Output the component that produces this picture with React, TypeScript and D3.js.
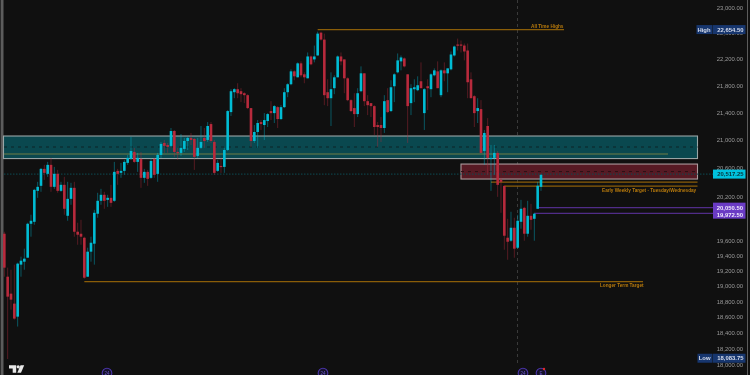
import React from "react";
import * as d3 from "d3";

const opens = [19706,19134,18913,18784,18617,19293,19332,19385,19841,19868,20294,20364,20602,20532,20659,20350,20532,20294,20378,19950,20183,20336,19733,19706,19652,19134,19465,19572,19978,20156,20239,20169,20197,20156,20574,20546,20574,20687,20743,20843,20701,20743,20476,20560,20476,20743,20532,20800,20972,20943,20929,21144,20843,20829,20886,21000,21044,21029,20786,20901,21044,21015,21245,20986,20574,20644,20630,20871,21420,21714,21759,21729,21699,21670,21479,21000,21130,21274,21231,21289,21435,21405,21493,21318,21493,21714,21833,22027,21937,22148,21982,21922,22253,22208,22268,22619,22512,21714,21625,21774,21937,22253,22208,21922,21596,21479,21391,21729,21997,21581,21552,21508,21231,21231,21188,21596,21435,21803,22012,22178,22223,21982,21552,21759,21744,21878,21405,21803,21759,21967,22027,21670,22042,21997,22057,22268,22436,22436,22420,22344,21907,21655,21435,21464,20857,21217,20743,20758,20829,20448,20364,19652,19612,19787,19518,19868,20059,19706,19950,19909,20046,20350];
const closes = [19253,18874,18835,18592,19306,19345,19372,19841,19882,20308,20350,20602,20546,20659,20350,20532,20294,20378,20046,20183,20336,19733,19693,19666,19121,19465,19585,19991,20156,20239,20156,20197,20128,20560,20532,20574,20701,20758,20857,20701,20758,20476,20560,20462,20715,20518,20800,20958,20929,20915,21144,20843,20829,20901,21000,21044,21015,20772,20901,20986,21000,21217,21000,20546,20687,20630,20871,21435,21729,21759,21699,21685,21670,21479,21000,21130,21260,21245,21303,21391,21405,21508,21318,21493,21714,21833,22027,21952,22148,21967,21937,22253,22133,22253,22604,22512,21670,21625,21759,21937,22253,22178,21922,21596,21435,21391,21699,21997,21581,21522,21508,21202,21202,21188,21581,21420,21788,21982,22193,22238,22102,21508,21774,21788,21818,21774,21759,21774,21982,22042,21774,22042,21997,22072,22283,22405,22420,22420,22329,21863,21625,21405,21479,20829,21116,20758,20758,20829,20378,20420,19679,19598,19787,19505,19882,20046,19706,19950,19895,19978,20364,20517.25];
const highs = [19733,19253,19226,19293,19319,19398,19505,19855,19964,20322,20420,20616,20659,20701,20758,20630,20588,20420,20490,20420,20406,20420,19855,19895,19666,19518,19666,20032,20267,20322,20281,20239,20378,20701,20602,20687,20729,20800,21058,20901,20829,20843,20602,20588,20758,20758,20829,20986,21015,20972,21188,21159,20901,21101,21044,21058,21116,21044,21044,21217,21188,21274,21274,21015,20729,20758,20901,21449,21759,21774,21848,21774,21714,21685,21479,21231,21303,21303,21405,21405,21581,21522,21508,21522,21774,21848,22057,22042,22163,22178,22012,22314,22268,22420,22635,22635,22604,21907,22012,21967,22268,22314,22208,21937,21611,21699,21774,22102,21997,21670,21552,21522,21274,21347,21670,21774,21893,21997,22299,22268,22238,21982,21833,21907,21952,22163,21774,21907,21997,22072,22178,22057,22163,22072,22329,22420,22527,22497,22451,22451,22012,21670,21625,21596,21159,21332,20943,20943,20857,20476,20364,19909,20005,19923,19964,20169,20073,20156,20114,19991,20420,20532];
const lows = [19134,18083.75,18707,18579,18491,19134,19226,19385,19666,19828,20197,20281,20448,20490,20281,20322,20267,20281,19964,19882,20101,19666,19558,19558,19108,19134,19332,19293,19923,20101,20046,20073,20073,20142,20378,20476,20518,20659,20729,20687,20560,20336,20406,20364,20462,20476,20420,20758,20829,20829,20915,20772,20729,20786,20843,20871,20943,20588,20758,20886,20901,20986,20972,20518,20560,20546,20546,20857,21362,21625,21625,21567,21552,21464,20915,20972,20901,21159,21015,21202,21303,21260,21188,21303,21479,21640,21818,21893,21937,21937,21848,21922,22118,22163,22268,22497,21522,21508,21217,21685,21937,22118,21699,21581,21420,21202,21347,21714,21508,21376,21347,21087,20915,20986,21116,21405,21420,21567,21997,22042,22087,20972,21376,21567,21729,21774,21159,21449,21640,21952,21774,21640,21878,21714,22042,22253,22344,22314,22193,21625,21625,21202,21260,20829,20659,20518,20294,20518,20211,19991,19491,19358,19598,19385,19505,19774,19612,19666,19760,19612,20046,20294];

const axisTicks = [23000,22600,22200,21800,21400,21000,20600,20200,19600,19400,19200,19000,18800,18600,18400,18200,18000];
const allTimeHigh = 22654.5;
const allTimeLow = 18083.75;
const lastPrice = 20517.25;
const purpleLevels = [20050.5, 19972.5];
const supplyZone = [21060, 20737];
const supplyMid = 20902;
const supplyInner = 20801;
const demandZone = [20659, 20448];
const demandMid = 20553;
const weeklyTargets = [20405, 20350];
const longerTarget = 19059;
const eventCandles = [30.8, 95.6, 155.6, 161];

const W = 750, H = 375;
const BG = "#101010", UP = "#00bcd4", DOWN = "#b82a3c", GOLD = "#8a5d08", VIOLET = "#502c88";
const FONT = "'Liberation Sans', Arial, sans-serif";

const y = d3.scaleLog().domain([18000, 23000]).range([365, 7.5]);
const x = d3.scaleLinear().domain([0, 161]).range([4.33, 541]);
const fmt = d3.format(",.2f");
const RIGHT_BOX = 697.5;

function Tag({ top, h = 9, left = 713, w = 32.5, fill, color, label }: any) {
  return (
    <g>
      <rect x={left} y={top} width={w} height={h} fill={fill} />
      <text x={left + w - 2} y={top + h / 2 + 2.1} textAnchor="end" fontSize={5.9} fontFamily={FONT} fontWeight={700} fill={color}>{label}</text>
    </g>
  );
}

export default function App() {
  const ry = (p: number) => y(p);
  return (
    <svg width={W} height={H} viewBox={`0 0 ${W} ${H}`} style={{ position: "fixed", left: 0, top: 0, display: "block", filter: "blur(0.4px)" }}>
      <rect width={W} height={H} fill={BG} />
      <rect x={0} y={0} width={1} height={H} fill="#2a2a2a" />
      <rect x={1} y={0} width={2.5} height={H} fill="#5c5c5c" />
      <rect x={747} y={0} width={1} height={H} fill="#5c5c5c" />

      {/* vertical session marker */}
      <line x1={517.5} x2={517.5} y1={0} y2={366} stroke="#3a3a3a" strokeDasharray="3 3" />

      {/* teal zone */}
      <rect x={3.5} y={ry(supplyZone[0])} width={RIGHT_BOX - 3.5} height={ry(supplyZone[1]) - ry(supplyZone[0])} fill="#0a484f" stroke="#9aa6a7" strokeWidth={1.1} />
      <line x1={4} x2={RIGHT_BOX} y1={ry(supplyMid)} y2={ry(supplyMid)} stroke="#0c2326" strokeDasharray="3 4" />
      <line x1={4} x2={668} y1={ry(supplyInner)} y2={ry(supplyInner)} stroke="#6f7d45" strokeWidth={1.1} />

      {/* red zone */}
      <rect x={x(137)} y={ry(demandZone[0])} width={RIGHT_BOX - x(137)} height={ry(demandZone[1]) - ry(demandZone[0])} fill="#571a24" stroke="#ad9b9d" strokeWidth={1.1} />
      <line x1={x(137)} x2={RIGHT_BOX} y1={ry(demandMid)} y2={ry(demandMid)} stroke="#2c1015" strokeDasharray="3 4" />

      {/* last price line */}
      <line x1={4} x2={713} y1={ry(lastPrice)} y2={ry(lastPrice)} stroke="#0d4a52" strokeDasharray="1.5 1.5" />

      {/* levels */}
      <line x1={x(94)} x2={564} y1={ry(allTimeHigh)} y2={ry(allTimeHigh)} stroke={GOLD} strokeWidth={1.3} />
      <line x1={x(146)} x2={RIGHT_BOX} y1={ry(weeklyTargets[0])} y2={ry(weeklyTargets[0])} stroke={GOLD} strokeWidth={1.3} />
      <line x1={x(150)} x2={RIGHT_BOX} y1={ry(weeklyTargets[1])} y2={ry(weeklyTargets[1])} stroke={GOLD} strokeWidth={1.3} />
      <line x1={x(24)} x2={643} y1={ry(longerTarget)} y2={ry(longerTarget)} stroke={GOLD} strokeWidth={1.3} />
      <line x1={x(160)} x2={713} y1={ry(purpleLevels[0])} y2={ry(purpleLevels[0])} stroke={VIOLET} strokeWidth={1.3} />
      <line x1={x(159)} x2={713} y1={ry(purpleLevels[1])} y2={ry(purpleLevels[1])} stroke={VIOLET} strokeWidth={1.3} />

      {/* candles */}
      <g transform="translate(0,0.8)">
        {opens.map((o, i) => {
          const c = closes[i];
          const up = c >= o;
          const col = up ? UP : DOWN;
          const top = y(Math.max(o, c));
          const bot = y(Math.min(o, c));
          return (
            <g key={i}>
              <line x1={x(i)} x2={x(i)} y1={y(highs[i])} y2={y(lows[i])} stroke={col} strokeOpacity={0.42} strokeWidth={1} />
              <rect x={x(i) - 1.3} y={top} width={2.6} height={Math.max(1.2, bot - top)} fill={col} />
            </g>
          );
        })}
      </g>

      {/* annotation text */}
      <g fontFamily={FONT} fontSize={4.7} fontWeight={700} fill="#b87a0c">
        <text x={531} y={ry(allTimeHigh) - 2}>All Time Highs</text>
        <text x={602} y={191.5}>Early Weekly Target - Tuesday/Wednesday</text>
        <text x={600} y={287.2}>Longer Term Target</text>
      </g>

      {/* axis */}
      <g fontFamily={FONT} fontSize={5.9} fill="#9a9a9a" textAnchor="end">
        {axisTicks.map((t) => (
          <text key={t} x={743} y={y(t) + 2.1}>{fmt(t)}</text>
        ))}
      </g>

      {/* price tags */}
      <Tag top={ry(allTimeHigh) - 4.5} fill="#17366e" color="#d5dcec" label={fmt(allTimeHigh)} />
      <Tag top={ry(allTimeHigh) - 4.5} left={696.5} w={16} fill="#17366e" color="#d5dcec" label="High" />
      <Tag top={ry(allTimeLow) - 4.5} fill="#17366e" color="#d5dcec" label={fmt(allTimeLow)} />
      <Tag top={ry(allTimeLow) - 4.5} left={697.5} w={15} fill="#17366e" color="#d5dcec" label="Low" />
      <Tag top={ry(lastPrice) - 4.5} fill="#00c2de" color="#08333a" label={fmt(lastPrice)} />
      <rect x={713} y={ry(purpleLevels[0]) - 5} width={32.5} height={16} fill="#6a3bc4" />
      <text x={743} y={ry(purpleLevels[0]) + 2} textAnchor="end" fontSize={5.9} fontWeight={700} fontFamily={FONT} fill="#efe8fb">{fmt(purpleLevels[0])}</text>
      <text x={743} y={ry(purpleLevels[1]) + 3.5} textAnchor="end" fontSize={5.9} fontWeight={700} fontFamily={FONT} fill="#efe8fb">{fmt(purpleLevels[1])}</text>

      {/* logo */}
      <g fill="#e8e8e8">
        <path d="M9 365.2h7.2v7.5h-3.5v-4.2H9z" />
        <circle cx={18.2} cy={366.8} r={1.6} />
        <path d="M20.5 365.2h3.7l-3.2 7.5h-3.7z" />
      </g>

      {/* events */}
      {eventCandles.map((ev, i) => (
        <g key={ev}>
          <circle cx={x(ev)} cy={373} r={4.8} fill="#15122a" stroke="#4a34a8" strokeWidth={1.1} />
          {i === 3 && <circle cx={x(ev) + 3} cy={369} r={1.2} fill="#e02a2a" />}
          <text x={x(ev)} y={375} textAnchor="middle" fontSize={4.5} fontFamily={FONT} fill="#6a55c8">{i === 3 ? "E" : "24"}</text>
        </g>
      ))}
    </svg>
  );
}
